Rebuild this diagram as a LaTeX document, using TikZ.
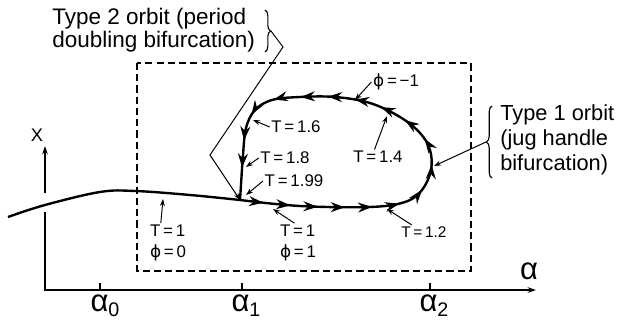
\documentclass[tikz,border=0pt]{standalone}
\usepackage{fontspec}
\setmainfont{Liberation Sans}
\newfontfamily\phifont{DejaVu Sans}
\usetikzlibrary{positioning,arrows.meta,decorations.markings,decorations.pathreplacing}
\newcommand{\phisym}{{\phifont ϕ}}
\newcommand{\alsub}[1]{α\raisebox{-0.25ex}{\fontsize{14}{14}\selectfont #1}}

\begin{document}
\begin{tikzpicture}[x=0.025cm, y=-0.025cm,
    lbl/.style={font=\fontsize{12}{15}\selectfont, inner sep=1pt, align=left},
    big/.style={font=\fontsize{16}{16.5}\selectfont, inner sep=0pt, align=left},
    alab/.style={font=\fontsize{22}{24}\selectfont, inner sep=0pt},
    ax/.style={line width=1.1pt},
    orbit/.style={line width=1.7pt},
    leader/.style={-{Stealth[length=5pt,width=3.5pt]}, line width=0.7pt},
    flow/.style={postaction={decorate}, decoration={markings,
        mark=between positions 0.045 and 0.99 step 0.0525 with {\arrow{Stealth[length=10pt,width=7pt]}}}}]
    \useasboundingbox (0,0) rectangle (619,321);

    \draw[ax] (45,192) -- (45,213);
    \draw[ax, -{Stealth[length=6pt,width=4pt]}] (45,192) -- (45,146);
    \draw[ax, -{Stealth[length=6pt,width=4pt]}] (45,213) |- (536,290);
    \draw[ax] (100,290) -- (100,283);
    \draw[ax] (242,290) -- (242,283);
    \draw[ax] (430,290) -- (430,283);
    \draw[white, line width=3pt] (45,193) -- (45,212);

    \node[font=\fontsize{13}{15}\selectfont, inner sep=0pt] (xlab) at (37,135) {X};
    \node[alab] (alpha) at (529,271) {α};
    \node[alab, anchor=north] (a0) at (105,295) {\alsub{0}};
    \node[alab, anchor=north] (a1) at (246,295) {\alsub{1}};
    \node[alab, anchor=north] (a2) at (434,295) {\alsub{2}};

    \draw[dashed, dash pattern=on 5pt off 3pt, line width=0.8pt] (137,63) rectangle (471,271);

    \coordinate (junc) at (240,200);
    \draw[orbit] plot[smooth, tension=0.6] coordinates {(8,217) (45,205) (100,192) (135,191) (190,195) (junc)};
    \draw[orbit, flow] plot[smooth, tension=0.6] coordinates {(junc) (300,206) (370,207) (405,202) (422,190) (431,170) (430,150) (420,133) (400,117) (370,103) (335,97) (300,97) (272,100) (255,110) (246,128) (243,155) (241,185) (junc)};

    \coordinate (c0) at (163,199);
    \coordinate (c1) at (273,209);
    \coordinate (c12) at (387,209);
    \coordinate (c14) at (387,116);
    \coordinate (cm1) at (355,100);
    \coordinate (c16) at (253,120);
    \coordinate (c18) at (246,167);
    \coordinate (c199) at (246,195);
    \coordinate (c1r) at (434,166);

    \node[lbl] (t0) at (168,243) {T\,=\,1\\\phisym\,=\,0};
    \node[lbl] (t1) at (298,243) {T\,=\,1\\\phisym\,=\,1};
    \node[lbl, font=\fontsize{11}{13}\selectfont] (t12) at (424,232) {T\,=\,1.2};
    \node[lbl] (t14) at (378,157) {T\,=\,1.4};
    \node[lbl] (tm1) at (396,82) {\phisym\,=\,−1};
    \node[lbl] (t16) at (296,127) {T\,=\,1.6};
    \node[lbl] (t18) at (285,158) {T\,=\,1.8};
    \node[lbl] (t199) at (294,181) {T\,=\,1.99};

    \draw[leader] (t0.110) -- (c0);
    \draw[leader] (t1.100) -- (c1);
    \draw[leader] (t12.150) -- (c12);
    \draw[leader] (t14.115) -- (c14);
    \draw[leader] (tm1.west) -- (cm1);
    \draw[leader] (t16.west) -- (c16);
    \draw[leader] (t18.west) -- (c18);
    \draw[leader] (t199.west) -- (c199);

    \node[big, anchor=north west] (type2) at (52,8) {Type 2 orbit (period\\doubling bifurcation)};
    \node[big, anchor=north west, font=\fontsize{15.5}{17.8}\selectfont] (type1) at (500,104) {Type 1 orbit\\(jug handle\\bifurcation)};

    \draw[decorate, decoration={brace, amplitude=4pt}, line width=0.8pt] (265,10) -- (265,52);
    \coordinate (b2tip) at (271,31);
    \draw[decorate, decoration={brace, amplitude=4pt}, line width=0.8pt] (492,178) -- (492,106);
    \coordinate (b1tip) at (486,142);

    \draw[leader] (b2tip) -- (283,47) -- (210,155) -- (junc);
    \draw[leader] (b1tip) -- (c1r);
\end{tikzpicture}
\end{document}
